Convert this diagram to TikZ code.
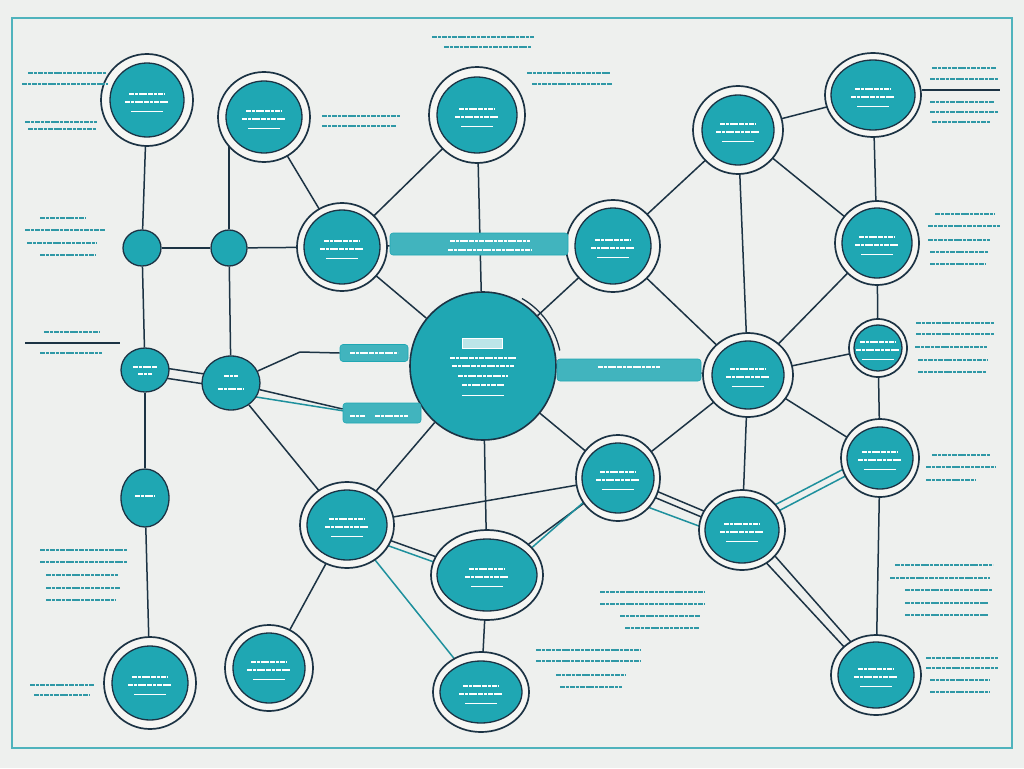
\documentclass[tikz,border=0pt]{standalone}
\usetikzlibrary{shapes.geometric}
\pgfdeclarelayer{back}
\pgfdeclarelayer{bg}
\pgfsetlayers{back,bg,main}
\definecolor{paper}{HTML}{EEF0EE}
\definecolor{teal}{HTML}{1FA7B3}
\definecolor{ink}{HTML}{1C3344}
\definecolor{frame}{HTML}{4FB3BD}
\definecolor{txtc}{HTML}{2F98A6}
\definecolor{ring}{HTML}{F6F6F3}
\tikzset{
  ringnode/.style={ellipse,draw=ink,line width=1.7pt,fill=ring,inner sep=0pt},
  core/.style={ellipse,draw=ink,line width=1.3pt,fill=teal,inner sep=0pt},
  link/.style={draw=ink,line width=1.5pt},
  tlink/.style={draw=teal!80!ink,line width=1.5pt},
  bar/.style={fill=teal!85!white,draw=teal,line width=0.6pt,rounded corners=3pt},
  txt/.style={draw=txtc,line width=2.8pt,dash pattern=on 5pt off 0.9pt on 3pt off 0.9pt},
  wtxt/.style={draw=white,line width=1.8pt,dash pattern=on 5pt off 0.8pt on 3pt off 0.8pt},
  wline/.style={draw=white,line width=0.9pt}
}
\newcommand\tl[3]{\draw[txt] (#1,#2) -- ++(#3,0);}
\newcommand\nd[7]{%
  \node[ringnode,minimum width=#6pt,minimum height=#7pt] (#1r) at (#2,#3) {};
  \node[core,minimum width=#4pt,minimum height=#5pt] (#1) at (#2,#3) {};
  \draw[wtxt] (#2-18,#3-6) -- (#2+18,#3-6);
  \draw[wtxt] (#2-22,#3+2) -- (#2+22,#3+2);
  \draw[wline] (#2-16,#3+11) -- (#2+16,#3+11);}
\newcommand\sn[5]{%
  \node[core,minimum width=#4pt,minimum height=#5pt] (#1) at (#2,#3) {};}
\begin{document}
\begin{tikzpicture}[x=1pt,y=-1pt]
\useasboundingbox (0,0) rectangle (1024,768);
\begin{pgfonlayer}{back}
\fill[paper] (0,0) rectangle (1024,768);
\draw[frame,line width=1.2pt] (12,18) rectangle (1012,748);
\end{pgfonlayer}

% ---- nodes ----
\nd{n1}{147}{100}{74}{74}{92}{92}
\nd{n2}{264}{117}{76}{72}{92}{90}
\nd{n3}{477}{115}{80}{76}{96}{96}
\nd{n4}{738}{130}{72}{70}{90}{88}
\nd{n5}{873}{95}{84}{70}{96}{84}
\nd{n6}{342}{247}{76}{74}{90}{88}
\nd{n7}{613}{246}{76}{76}{94}{92}
\nd{n8}{877}{243}{70}{70}{84}{84}
\nd{n10}{878}{348}{48}{46}{58}{58}
\nd{n11}{748}{375}{72}{68}{90}{84}
\nd{n12}{880}{458}{66}{62}{78}{78}
\nd{n13}{618}{478}{72}{70}{84}{86}
\nd{n14}{742}{530}{74}{66}{86}{80}
\nd{n15}{347}{525}{80}{70}{94}{86}
\nd{n16}{487}{575}{100}{72}{112}{90}
\nd{n17}{876}{675}{76}{66}{90}{80}
\nd{n18}{150}{683}{76}{74}{92}{92}
\nd{n19}{269}{668}{72}{70}{88}{86}
\nd{n20}{481}{692}{82}{62}{96}{80}
% central node
\node[core,minimum width=146pt,minimum height=148pt,line width=1.6pt] (n9) at (483,366) {};
\draw[ink,line width=1.3pt] (522,298.5) arc[start angle=-60,end angle=-12,radius=79];
\draw[draw=white,line width=1pt,fill=white!70!teal] (462,338) rectangle (502,348);
\draw[wtxt] (450,358) -- (516,358);
\draw[wtxt] (452,366) -- (514,366);
\draw[wtxt] (458,376) -- (508,376);
\draw[wtxt] (462,385) -- (504,385);
\draw[wline] (462,395) -- (504,395);
% small nodes
\sn{s1}{142}{248}{38}{36}
\sn{s2}{229}{248}{36}{36}
\sn{s3}{145}{370}{48}{44}
\sn{s4}{231}{383}{58}{54}
\sn{s5}{145}{498}{48}{58}
\draw[wtxt] (133,367) -- (157,367);
\draw[wtxt] (138,374) -- (152,374);
\draw[wtxt] (224,376) -- (238,376);
\draw[wtxt] (218,389) -- (244,389);
\draw[wtxt] (135,496) -- (155,496);
% bars
\node[bar,minimum width=178pt,minimum height=22pt] (b1) at (479,244) {};
\node[bar,minimum width=68pt,minimum height=17pt] (b2) at (374,353) {};
\node[bar,minimum width=78pt,minimum height=20pt] (b3) at (382,413) {};
\node[bar,minimum width=144pt,minimum height=22pt] (b4) at (629,370) {};
\coordinate (k2) at (300,352);
\draw[wtxt] (450,241) -- (530,241);
\draw[wtxt] (448,250) -- (532,250);
\draw[wtxt] (350,353) -- (398,353);
\draw[wtxt] (350,416) -- (365,416);
\draw[wtxt] (375,416) -- (408,416);
\draw[wtxt] (598,367) -- (660,367);

% ---- connectors (background) ----
\begin{pgfonlayer}{bg}
\draw[link] (n1) -- (s1);
\draw[link] (s1) -- (s2);
\draw[link] (s2) -- (n6);
\draw[link] (s2) -- (s2 |- n2);
\draw[link] (s1) -- (s3);
\draw[link] (s3) -- (s5);
\draw[link] (s5) -- (n18);
\draw[link] (s2) -- (s4);
\draw[link] ([yshift=5pt]s3.center) -- ([yshift=5pt]s4.center);
\draw[link] ([yshift=-5pt]s3.center) -- ([yshift=-5pt]s4.center);
\draw[link] (s4) -- (k2) -- (b2.west);
\draw[link] (s4) -- ([yshift=4pt]b3.west);
\draw[tlink] ([yshift=-10pt]s4.center) -- ([yshift=-4pt]b3.center);
\draw[link] (s4) -- (n15);
\draw[link] (n2) -- (n6);
\draw[link] (n6) -- (n3);
\draw[link] (n3) -- (n9);
\draw[link] (n6) -- (n9);
\draw[link] (n6) -- (b1);
\draw[link] (b1) -- (n7);
\draw[link] (n7) -- (n4);
\draw[link] (n4) -- (n5);
\draw[link] (n4) -- (n11);
\draw[link] (n4) -- (n8);
\draw[link] (n5) -- (n8);
\draw[link] (n8) -- (n11);
\draw[link] (n7) -- (n9);
\draw[link] (n7) -- (n11);
\draw[link] (n8) -- (n10);
\draw[link] (n10) -- (n11);
\draw[link] (n10) -- (n12);
\draw[link] (n11) -- (n12);
\draw[link] (n11) -- (n14);
\draw[link] (n11) -- (n13);
\draw[link] (n9) -- (b4);
\draw[link] (b4) -- (n11);
\draw[link] (n9) -- (n13);
\draw[link] (n9) -- (n15);
\draw[link] (n9) -- (n16);
\draw[link] (n13) -- (n16);
\draw[link] ([yshift=3pt]n13.center) -- ([yshift=3pt]n14.center);
\draw[link] ([yshift=-4pt]n13.center) -- ([yshift=-4pt]n14.center);
\draw[tlink] ([yshift=-18pt]n13.center) -- ([yshift=-12pt]n14.center);
\draw[tlink] (n12) -- (n14);
\draw[tlink] ([yshift=8pt]n12.center) -- ([yshift=8pt]n14.center);
\draw[link] ([xshift=-6pt]n14.center) -- ([xshift=-6pt]n17.center);
\draw[link] ([xshift=10pt]n14.center) -- ([xshift=4pt]n17.center);
\draw[link] (n12) -- (n17);
\draw[link] (n15) -- (n13);
\draw[tlink] ([yshift=-12pt]n16.center) -- ([yshift=6pt]n13.center);
\draw[link] (n15) -- (n16);
\draw[link] (n15) -- (n19);
\draw[link] (n16) -- (n20);
\draw[tlink] (n15) -- (n20);
\draw[tlink] ([yshift=-6pt]n15.center) -- ([yshift=-6pt]n16.center);
\end{pgfonlayer}

% ---- pseudo text ----
\tl{28}{73}{78}\tl{22}{84}{86}
\tl{25}{122}{72}\tl{28}{129}{68}
\tl{322}{116}{78}\tl{322}{126}{74}
\tl{432}{37}{102}\tl{444}{47}{88}
\tl{527}{73}{84}\tl{532}{84}{80}
\tl{932}{68}{64}\tl{930}{79}{68}
\draw[ink,line width=1.3pt] (922,90) -- (1000,90);
\tl{930}{102}{64}\tl{930}{112}{68}\tl{932}{122}{58}
\tl{40}{218}{46}\tl{25}{230}{80}\tl{27}{243}{70}\tl{40}{255}{55}
\tl{44}{332}{56}
\draw[ink,line width=1.1pt] (25,343) -- (120,343);
\tl{40}{353}{62}
\tl{935}{214}{60}\tl{928}{226}{72}\tl{928}{240}{62}\tl{930}{252}{58}\tl{930}{264}{56}
\tl{916}{323}{78}\tl{916}{334}{78}\tl{915}{347}{72}\tl{918}{360}{70}\tl{918}{372}{68}
\tl{932}{455}{58}\tl{926}{467}{70}\tl{926}{480}{50}
\tl{40}{550}{88}\tl{40}{562}{88}\tl{46}{575}{72}\tl{46}{588}{74}\tl{46}{600}{70}
\tl{600}{592}{104}\tl{600}{604}{104}\tl{620}{616}{80}\tl{625}{628}{74}
\tl{895}{565}{98}\tl{890}{578}{100}\tl{905}{590}{88}\tl{905}{603}{84}\tl{905}{615}{84}
\tl{536}{650}{104}\tl{536}{661}{104}\tl{556}{675}{70}\tl{560}{687}{62}
\tl{926}{658}{72}\tl{926}{668}{72}\tl{930}{680}{60}\tl{930}{692}{60}
\tl{30}{685}{64}\tl{34}{695}{56}
\end{tikzpicture}
\end{document}
